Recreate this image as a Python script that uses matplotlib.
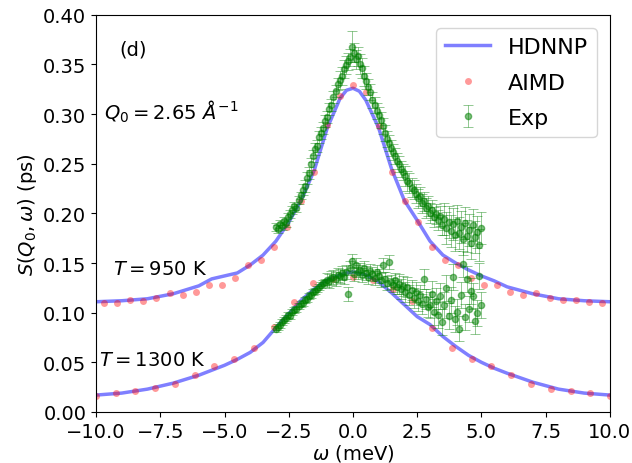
#!/usr/bin/env python3

import numpy as np
import matplotlib
matplotlib.use("Agg")
import matplotlib.pyplot as plt

# HDNNP curves
w_nn = [-10, -9, -8, -7, -6, -5.5, -5, -4.5, -4, -3.5, -3, -2.5, -2, -1.5, -1, -0.5,
        -0.25, 0, 0.25, 0.5, 1, 1.5, 2, 2.5, 3, 3.5, 4, 4.5, 5, 5.5, 6, 7, 8, 9, 10]
s950_nn = [0.111, 0.112, 0.114, 0.119, 0.127, 0.134, 0.137, 0.140, 0.148, 0.158, 0.172,
           0.191, 0.214, 0.244, 0.286, 0.316, 0.324, 0.326, 0.323, 0.314, 0.286, 0.245,
           0.213, 0.193, 0.172, 0.158, 0.150, 0.143, 0.137, 0.132, 0.126, 0.119, 0.114,
           0.112, 0.111]
s1300_nn = [0.017, 0.019, 0.023, 0.029, 0.037, 0.042, 0.047, 0.053, 0.060, 0.070, 0.085,
            0.099, 0.113, 0.124, 0.133, 0.138, 0.140, 0.141, 0.140, 0.138, 0.131, 0.120,
            0.108, 0.096, 0.088, 0.076, 0.066, 0.057, 0.050, 0.044, 0.039, 0.030, 0.023,
            0.019, 0.017]

# AIMD
w_md950 = [-9.69, -9.18, -8.67, -8.16, -7.65, -7.14, -6.63, -6.12, -5.61, -5.10, -4.59,
           -4.08, -3.57, -3.06, -2.55, -2.04, -1.53, -1.02, -0.51, 0.0, 0.51, 1.02, 1.53,
           2.04, 2.55, 3.06, 3.57, 4.08, 4.59, 5.10, 5.61, 6.12, 6.63, 7.14, 7.65, 8.16,
           8.67, 9.18, 9.69]
s950_md = [0.1095, 0.1098, 0.1128, 0.1121, 0.1152, 0.1196, 0.1176, 0.1212, 0.1283, 0.1283,
           0.1347, 0.1481, 0.1532, 0.166, 0.186, 0.212, 0.2415, 0.289, 0.318, 0.3295,
           0.3227, 0.288, 0.242, 0.212, 0.191, 0.1666, 0.153, 0.1485, 0.1347, 0.1283,
           0.1283, 0.1212, 0.1179, 0.1196, 0.1152, 0.1128, 0.1128, 0.1105, 0.1095]
w_md1300 = [-10.01, -9.24, -8.47, -7.70, -6.93, -6.16, -5.39, -4.62, -3.85, -3.08, -2.31,
            -1.54, -0.77, 0.0, 0.77, 1.54, 2.31, 3.08, 3.85, 4.62, 5.39, 6.16, 6.93, 7.70,
            8.47, 9.24, 10.01]
s1300_md = [0.0164, 0.0191, 0.0215, 0.0239, 0.0282, 0.0373, 0.0467, 0.0534, 0.0642, 0.0853,
            0.1105, 0.1297, 0.134, 0.1357, 0.133, 0.124, 0.112, 0.0846, 0.0642, 0.0534,
            0.046, 0.0373, 0.0282, 0.0232, 0.0208, 0.0191, 0.0164]

# Experiment, energy bins -3 ... 5 meV
s950_exp = [0.186, 0.184, 0.189, 0.187, 0.192, 0.190, 0.196, 0.199, 0.203, 0.207,
            0.205, 0.213, 0.218, 0.224, 0.228, 0.236, 0.241, 0.250, 0.258, 0.265,
            0.268, 0.277, 0.281, 0.286, 0.293, 0.297, 0.305, 0.309, 0.317, 0.323,
            0.330, 0.334, 0.338, 0.345, 0.349, 0.353, 0.357, 0.368, 0.362, 0.355,
            0.358, 0.350, 0.346, 0.338, 0.333, 0.327, 0.322, 0.314, 0.309, 0.303,
            0.299, 0.294, 0.288, 0.281, 0.275, 0.271, 0.266, 0.262, 0.258, 0.253,
            0.250, 0.245, 0.242, 0.238, 0.233, 0.231, 0.226, 0.224, 0.220, 0.215,
            0.217, 0.210, 0.212, 0.205, 0.207, 0.200, 0.203, 0.196, 0.199, 0.193,
            0.197, 0.188, 0.194, 0.185, 0.191, 0.182, 0.189, 0.178, 0.192, 0.180,
            0.186, 0.174, 0.190, 0.177, 0.183, 0.170, 0.188, 0.176, 0.181, 0.168,
            0.185]
e950_exp = [0.004] * 13 + [0.006] * 18 + [0.009] * 6 + [0.016] + [0.010] * 6 + \
           [0.008] * 19 + [0.010] * 19 + [0.016] * 19
s1300_exp = [0.084, 0.086, 0.088, 0.091, 0.093, 0.095, 0.098, 0.097, 0.101, 0.103,
             0.104, 0.107, 0.109, 0.110, 0.113, 0.114, 0.117, 0.118, 0.121, 0.122,
             0.124, 0.126, 0.128, 0.130, 0.131, 0.133, 0.132, 0.135, 0.136, 0.134,
             0.138, 0.137, 0.140, 0.136, 0.141, 0.119, 0.145, 0.152, 0.139, 0.148,
             0.141, 0.143, 0.138, 0.145, 0.140, 0.136, 0.142, 0.139, 0.135, 0.141,
             0.137, 0.133, 0.148, 0.134, 0.130, 0.151, 0.131, 0.128, 0.133, 0.126,
             0.129, 0.124, 0.127, 0.121, 0.126, 0.118, 0.123, 0.115, 0.121, 0.112,
             0.118, 0.109, 0.134, 0.114, 0.106, 0.108, 0.119, 0.101, 0.112, 0.098,
             0.117, 0.091, 0.108, 0.125, 0.097, 0.113, 0.136, 0.094, 0.101, 0.084,
             0.118, 0.149, 0.096, 0.134, 0.104, 0.122, 0.117, 0.092, 0.100, 0.137,
             0.108]
e1300_exp = [0.003] * 25 + [0.007] * 35 + [0.010] * 15 + [0.013] * 26

w_exp = np.linspace(-3, 5, len(s950_exp))


def main():
    fig = plt.figure(figsize=(6.32, 4.64), dpi=100)
    ax = fig.add_axes([0.152, 0.110, 0.813, 0.856])

    ax.plot(w_nn, s950_nn, color='b', alpha=0.5, lw=2.5, label='HDNNP')
    ax.plot(w_nn, s1300_nn, color='b', alpha=0.5, lw=2.5)

    ax.plot(w_md950, s950_md, 'o', color='r', alpha=0.4, ms=5, mec='none', label='AIMD')
    ax.plot(w_md1300, s1300_md, 'o', color='r', alpha=0.4, ms=5, mec='none')

    ax.errorbar(w_exp, s950_exp, yerr=e950_exp, fmt='o', color='g', ms=4.5, alpha=0.5,
                elinewidth=0.6, capsize=3.5, capthick=0.6, label='Exp')
    ax.errorbar(w_exp, s1300_exp, yerr=e1300_exp, fmt='o', color='g', ms=4.5, alpha=0.5,
                elinewidth=0.6, capsize=3.5, capthick=0.6)

    ax.set_xlim(-10, 10)
    ax.set_ylim(0, 0.40)
    ax.set_xticks(np.arange(-10, 10.1, 2.5))
    ax.set_yticks(np.arange(0, 0.401, 0.05))
    ax.tick_params(labelsize=14)
    ax.set_xlabel(r'$\omega$ (meV)', fontsize=14, labelpad=1)
    ax.set_ylabel(r'$S(Q_0,\omega)$ (ps)', fontsize=14, labelpad=3)

    ax.text(-9.1, 0.366, '(d)', fontsize=14, va='center')
    ax.text(-9.7, 0.303, r'$Q_0 = 2.65\ \AA^{-1}$', fontsize=14, va='center')
    ax.text(-9.35, 0.144, r'$T = 950$ K', fontsize=14, va='center')
    ax.text(-9.9, 0.053, r'$T = 1300$ K', fontsize=14, va='center')

    ax.legend(loc='upper right', fontsize=16, labelspacing=0.7, borderaxespad=0.6)

    fig.savefig('out.png', dpi=100)


if __name__ == "__main__":
    main()
